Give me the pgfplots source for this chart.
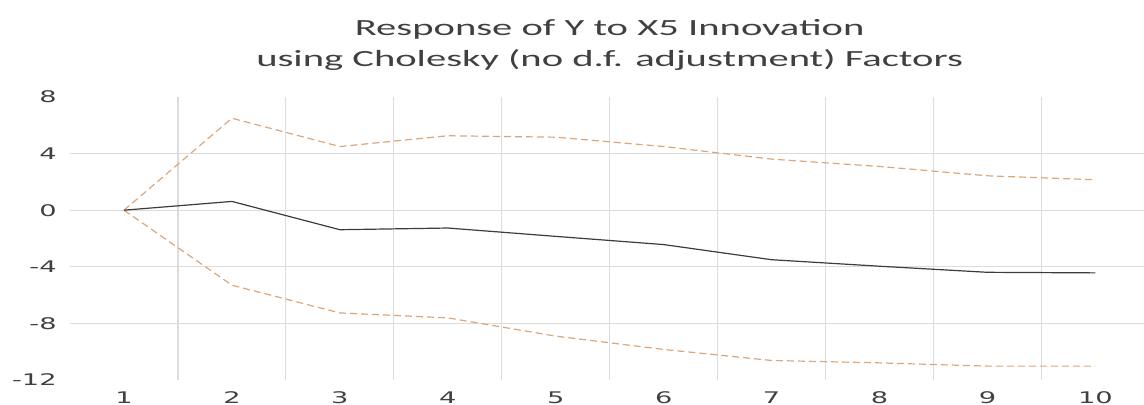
\documentclass[border=0pt]{standalone}
\usepackage{fontspec}
\usepackage{pgfplots}
\pgfplotsset{compat=1.18}
\setmainfont{Carlito}[FakeStretch=1.75]
\newfontfamily\tickfont{DejaVu Sans}[FakeStretch=1.7]
\definecolor{band}{RGB}{222,165,120}
\definecolor{mid}{RGB}{60,60,60}
\definecolor{gridc}{RGB}{220,220,220}
\definecolor{txt}{RGB}{64,64,64}
\begin{document}
\begin{tikzpicture}
\begin{axis}[
  scale only axis,
  width=537pt, height=141.5pt,
  xmin=0.5, xmax=10.45,
  ymin=-12, ymax=8,
  axis line style={draw=none},
  xtick={1,...,10},
  xticklabels={1,2,3,4,5,6,7,8,9,10},
  minor xtick={1.5,2.5,...,9.5},
  xminorgrids,
  ytick={-8,-4,0,4},
  yticklabels={-8,-4,0,4},
  extra y ticks={-12,8},
  extra y tick labels={-12,8},
  extra y tick style={grid=none},
  ymajorgrids,
  major tick length=0pt, minor tick length=0pt,
  grid style={gridc, line width=0.6pt},
  minor grid style={gridc, line width=0.6pt},
  xticklabel style={font=\tickfont\fontsize{8}{9}\selectfont, text=txt, anchor=north, inner sep=0pt, yshift=-5.5pt},
  yticklabel style={font=\tickfont\fontsize{8}{9}\selectfont, text=txt, anchor=east, inner sep=0pt, xshift=-6.5pt},
  title={Response of Y to X5 Innovation\\using Cholesky (no d.f. adjustment) Factors},
  title style={font=\fontsize{11.6}{15.5}\selectfont, text=txt, align=center, at={(0.5025,1)}, anchor=south, inner sep=0pt, yshift=7pt},
]
\addplot[band, line width=0.6pt, dash pattern=on 3.5pt off 2pt] coordinates {
(1,0) (2,6.5) (3,4.5) (4,5.26) (5,5.16) (6,4.5) (7,3.61) (8,3.09) (9,2.43) (10,2.15)};
\addplot[band, line width=0.6pt, dash pattern=on 3.5pt off 2pt] coordinates {
(1,0) (2,-5.3) (3,-7.26) (4,-7.61) (5,-8.9) (6,-9.84) (7,-10.62) (8,-10.79) (9,-11.02) (10,-11.02)};
\addplot[mid, line width=0.6pt] coordinates {
(1,0) (2,0.62) (3,-1.38) (4,-1.26) (5,-1.85) (6,-2.43) (7,-3.5) (8,-3.96) (9,-4.39) (10,-4.43)};
\end{axis}
\pgfresetboundingbox
\path (-35pt,-12.5pt) rectangle (537pt,190pt);
\end{tikzpicture}
\end{document}
